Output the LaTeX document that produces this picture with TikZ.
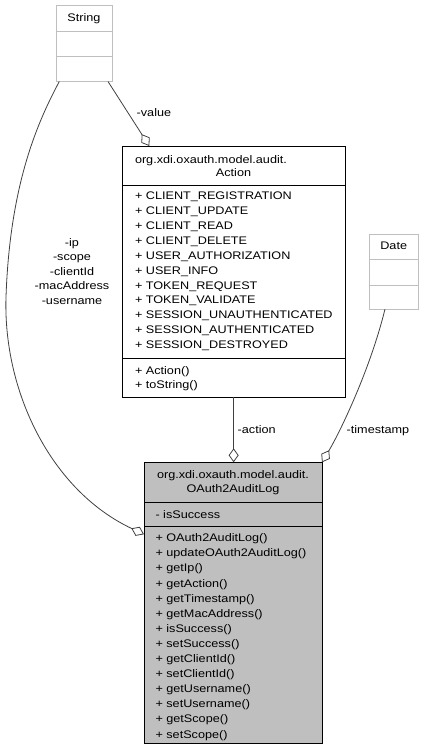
\documentclass[tikz,border=0pt]{standalone}
\usepackage{fontspec}
\newfontfamily\umlfont[FakeStretch=1.15]{Liberation Sans}
\usetikzlibrary{arrows.meta}
\definecolor{edgegray}{HTML}{404040}
\definecolor{lightborder}{HTML}{BFBFBF}
\definecolor{boxgray}{HTML}{BFBFBF}
\tikzset{
  every node/.style={font=\umlfont\fontsize{11}{15}\selectfont, inner sep=0pt, outer sep=0pt},
  classbox/.style={draw=black, line width=1pt, anchor=north west},
  lightbox/.style={draw=lightborder, line width=1pt, anchor=north west},
  sepline/.style={draw=black, line width=1pt},
  lightsep/.style={draw=lightborder, line width=1pt},
  txt/.style={anchor=base west},
  ctxt/.style={anchor=base},
  assoc/.style={draw=edgegray, line width=0.8pt, -{Diamond[open, length=14pt, width=10pt]}},
}
\begin{document}
\begin{tikzpicture}[x=1pt,y=-1pt]
\useasboundingbox (0,0) rectangle (424,749);

% ---------- String ----------
\node[lightbox, minimum width=56pt, minimum height=76pt] (string) at (56,5.5) {};
\draw[lightsep] (56,31.3) -- (112,31.3);
\draw[lightsep] (56,56.7) -- (112,56.7);
\node[ctxt] (stringname) at (84,22) {String};

% ---------- Date ----------
\node[lightbox, minimum width=49.3pt, minimum height=75.3pt] (date) at (369,234) {};
\draw[lightsep] (369,259) -- (418.3,259);
\draw[lightsep] (369,285) -- (418.3,285);
\node[ctxt] (datename) at (393.7,249.3) {Date};

% ---------- Action ----------
\node[classbox, minimum width=222.7pt, minimum height=251pt] (action) at (122.3,146) {};
\draw[sepline] (122.3,185.7) -- (345,185.7);
\draw[sepline] (122.3,358.5) -- (345,358.5);
\node[txt] (act-t1) at (135,163.5) {org.xdi.oxauth.model.audit.};
\node[ctxt] (act-t2) at (233.5,176.3) {Action};
\foreach \t [count=\i from 0] in {CLIENT\_REGISTRATION, CLIENT\_UPDATE, CLIENT\_READ, CLIENT\_DELETE, USER\_AUTHORIZATION, USER\_INFO, TOKEN\_REQUEST, TOKEN\_VALIDATE, SESSION\_UNAUTHENTICATED, SESSION\_AUTHENTICATED, SESSION\_DESTROYED}
  \node[txt] (act-a\i) at (135,{199.3+14.95*\i}) {+ \t};
\node[txt] (act-m0) at (135,374) {+ Action()};
\node[txt] (act-m1) at (135,388.4) {+ toString()};

% ---------- OAuth2AuditLog ----------
\node[classbox, fill=boxgray, minimum width=178pt, minimum height=280.7pt] (oauth) at (144,462.3) {};
\draw[sepline] (144,502.7) -- (322,502.7);
\draw[sepline] (144,526.7) -- (322,526.7);
\node[ctxt] (oa-t1) at (233,478.5) {org.xdi.oxauth.model.audit.};
\node[ctxt] (oa-t2) at (233,492.3) {OAuth2AuditLog};
\node[txt] (oa-a0) at (155.5,518.3) {- isSuccess};
\foreach \t [count=\i from 0] in {OAuth2AuditLog(), updateOAuth2AuditLog(), getIp(), getAction(), getTimestamp(), getMacAddress(), isSuccess(), setSuccess(), getClientId(), setClientId(), getUsername(), setUsername(), getScope(), setScope()}
  \node[txt] (oa-m\i) at (155.5,{541.7+15.1*\i}) {+ \t};

% ---------- connectors ----------
\draw[assoc] ([xshift=-4pt]string.south east) -- ([xshift=27pt]action.north west);
\node[txt] (lbl-value) at (136.7,116.7) {-value};

\draw[assoc] ([xshift=3.3pt]string.south west) .. controls (40,118) and (10,180) .. (6,297)
  .. controls (3,390) and (50,490) .. ([yshift=-72pt]oauth.north west);
\node[ctxt] (lbl-ip) at (72,246) {-ip};
\node[ctxt] (lbl-scope) at (72,260.5) {-scope};
\node[ctxt] (lbl-clientid) at (72,275) {-clientId};
\node[ctxt] (lbl-mac) at (72,289.5) {-macAddress};
\node[ctxt] (lbl-user) at (72,304) {-username};

\draw[assoc] (action.south) -- (action.south |- oauth.north);
\node[txt] (lbl-action) at (237.7,433.3) {-action};

\draw[assoc] ([xshift=-8.7pt]date.south) .. controls (370,370) and (340,432) .. (oauth.north east);
\node[txt] (lbl-timestamp) at (346.7,433.3) {-timestamp};
\end{tikzpicture}
\end{document}
